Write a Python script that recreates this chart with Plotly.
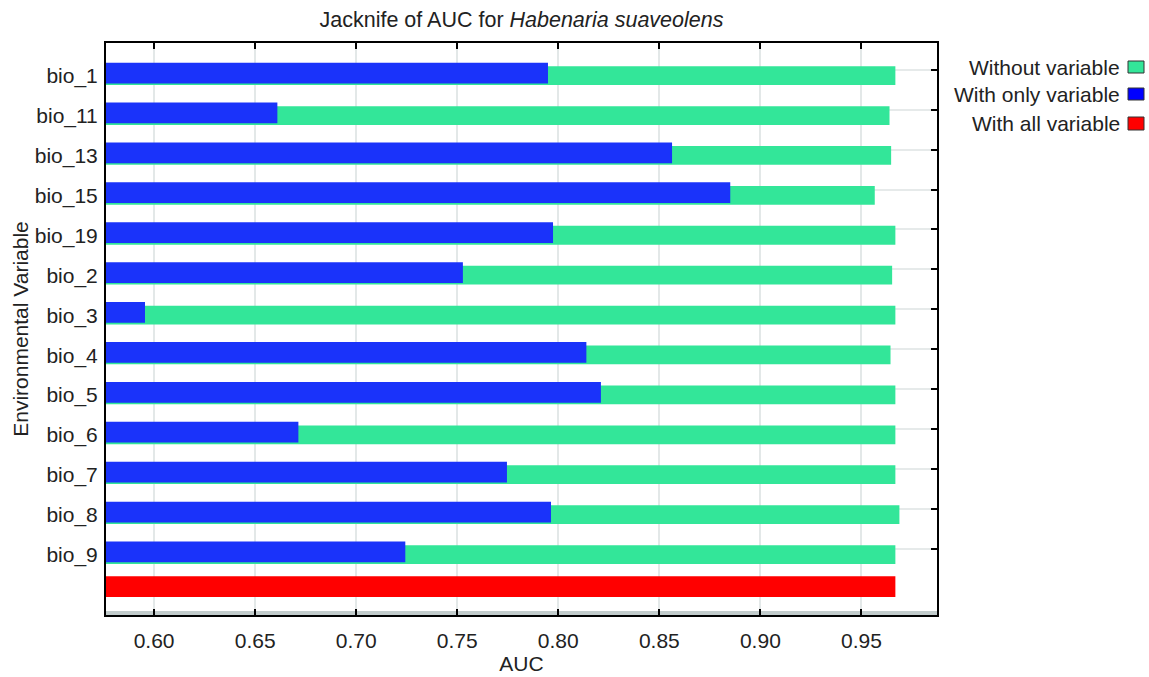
import plotly.graph_objects as go

variables = ["bio_1", "bio_11", "bio_13", "bio_15", "bio_19", "bio_2", "bio_3",
             "bio_4", "bio_5", "bio_6", "bio_7", "bio_8", "bio_9"]
without_variable = [0.9668, 0.9639, 0.9647, 0.9566, 0.9668, 0.9652, 0.9668,
                    0.9644, 0.9668, 0.9668, 0.9668, 0.9688, 0.9668]
with_only_variable = [0.7949, 0.6610, 0.8563, 0.8851, 0.7974, 0.7528, 0.5955,
                      0.8139, 0.8211, 0.6714, 0.7746, 0.7964, 0.7243]
all_label = " "
with_all_variables = [0.9668]
x_ticks = [0.60, 0.65, 0.70, 0.75, 0.80, 0.85, 0.90, 0.95]
legend_names = ["Without variable", "With only variable", "With all variable"]

GREEN = "#33e699"
BLUE = "#1a33fa"
RED = "#ff0000"
FONT = "Liberation Sans, Arial, sans-serif"
TXT = "#222222"

categories = variables + [all_label]
n = len(categories)

fig = go.Figure()
fig.add_trace(go.Bar(y=variables, x=without_variable, orientation="h",
                     marker=dict(color=GREEN, line=dict(width=0)),
                     width=0.47, offset=-0.24, name=legend_names[0], showlegend=False))
fig.add_trace(go.Bar(y=variables, x=with_only_variable, orientation="h",
                     marker=dict(color=BLUE, line=dict(width=0)),
                     width=0.52, offset=-0.33, name=legend_names[1], showlegend=False))
fig.add_trace(go.Bar(y=[all_label], x=with_all_variables, orientation="h",
                     marker=dict(color=RED, line=dict(width=0)),
                     width=0.52, offset=-0.46, name=legend_names[2], showlegend=False))
# helper trace for the right-hand tick axis
fig.add_trace(go.Scatter(x=[None], y=[None], yaxis="y2", showlegend=False, hoverinfo="skip"))

yr = [n - 0.49, -0.822]
fig.update_layout(
    width=1149, height=677,
    margin=dict(l=106, r=212, t=43, b=62, autoexpand=False),
    plot_bgcolor="white", paper_bgcolor="white",
    barmode="overlay",
    font=dict(family=FONT, size=21, color=TXT),
    title=dict(text="Jacknife of AUC for <i>Habenaria suaveolens</i>",
               x=(106 + 937) / 2 / 1149, xanchor="center", y=1 - 19 / 677, yanchor="middle",
               font=dict(family=FONT, size=21.5, color=TXT), automargin=False),
    xaxis=dict(range=[0.5762, 0.9874], tickvals=x_ticks, tickformat=".2f",
               ticks="inside", ticklen=6, tickwidth=2, tickcolor="black",
               showline=True, linewidth=2, linecolor="black", mirror="ticks",
               showgrid=True, gridcolor="#e3e8e8", gridwidth=2, zeroline=False,
               automargin=False, ticklabelstandoff=6,
               title=dict(text="AUC", standoff=4, font=dict(size=21)),
               tickfont=dict(size=21)),
    yaxis=dict(type="category", categoryorder="array", categoryarray=categories,
               range=yr, ticks="", showline=True, linewidth=2, linecolor="black",
               mirror=True, showgrid=False, zeroline=False, automargin=False,
               ticklabelstandoff=2, tickfont=dict(size=21),
               title=dict(text="Environmental Variable", standoff=0, font=dict(size=21))),
    yaxis2=dict(overlaying="y", side="right", range=yr, automargin=False,
                tickvals=[i - 0.15 for i in range(len(variables))],
                ticks="inside", ticklen=6, tickwidth=2, tickcolor="black",
                showticklabels=False, showgrid=True, gridcolor="#e6eaea", gridwidth=2,
                zeroline=False, showline=False),
)

fig.add_shape(type="rect", xref="x domain", yref="y domain", x0=0, x1=1, y0=0, y1=0.007,
              fillcolor="#c2cccc", line=dict(width=0), layer="below")

# legend (text on the left, swatch on the right)
pw = 1149 - 106 - 212
ph = 677 - 43 - 62
swatch_rows = [(61, 73), (88, 100), (117, 130)]
swatch_colors = [GREEN, "#0000ff", RED]
for name, col, (py0, py1) in zip(legend_names, swatch_colors, swatch_rows):
    fig.add_shape(type="rect", xref="paper", yref="paper",
                  x0=(1128 - 106) / pw, x1=(1144 - 106) / pw,
                  y0=(615 - py1) / ph, y1=(615 - py0) / ph,
                  fillcolor=col, line=dict(color="#333333", width=1))
    fig.add_annotation(text=name, xref="paper", yref="paper",
                       x=(1122 - 106) / pw, y=(615 - (py0 + py1) / 2) / ph,
                       xanchor="right", yanchor="middle", showarrow=False,
                       font=dict(family=FONT, size=21, color=TXT))

fig.write_html("out.html", config={"displayModeBar": False},
               post_script="document.body.style.margin='0';document.body.style.overflow='hidden';")
